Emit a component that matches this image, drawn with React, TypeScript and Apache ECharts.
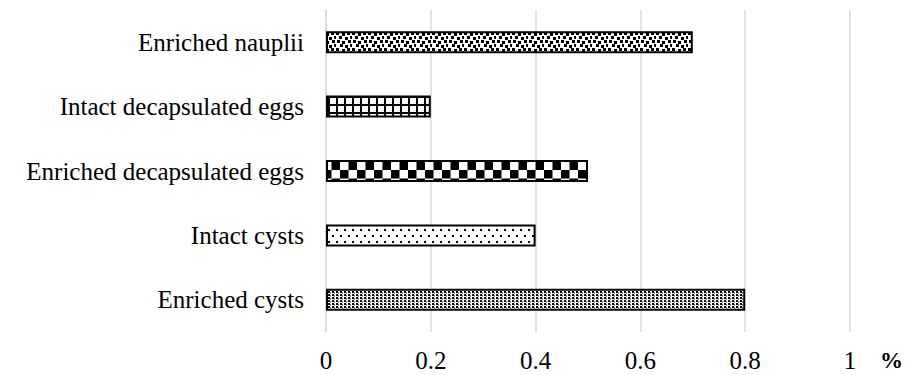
import React, { useEffect, useRef } from "react";
import * as echarts from "echarts";

const categories = [
  "Enriched cysts",
  "Intact cysts",
  "Enriched decapsulated eggs",
  "Intact decapsulated eggs",
  "Enriched nauplii",
];
const values = [0.8, 0.4, 0.5, 0.2, 0.7];
const xTicks = { min: 0, max: 1, interval: 0.2 };
const unitLabel = "%";

function makeCanvas(w: number, h: number, draw: (c: CanvasRenderingContext2D) => void) {
  const cv = document.createElement("canvas");
  cv.width = w;
  cv.height = h;
  const ctx = cv.getContext("2d")!;
  ctx.fillStyle = "#fff";
  ctx.fillRect(0, 0, w, h);
  ctx.fillStyle = "#000";
  draw(ctx);
  return { image: cv, repeat: "repeat", imageWidth: w, imageHeight: h } as any;
}

function buildPatterns() {
  // Enriched cysts: dense dots
  const dense = makeCanvas(4, 3, (c) => {
    c.fillRect(0, 0, 2, 2);
    c.fillRect(2, 1.5, 1, 1);
  });
  // Intact cysts: sparse dots
  const sparse = makeCanvas(8, 12, (c) => {
    c.fillRect(0, 1, 2, 2);
    c.fillRect(4, 7, 2, 2);
  });
  // Enriched decapsulated eggs: checkerboard
  const checker = makeCanvas(17, 17, (c) => {
    c.fillRect(0, 0, 8.5, 8.5);
    c.fillRect(8.5, 8.5, 8.5, 8.5);
  });
  // Intact decapsulated eggs: grid
  const grid = makeCanvas(8, 8, (c) => {
    c.fillRect(0, 0, 8, 2);
    c.fillRect(0, 0, 2, 8);
  });
  // Enriched nauplii: confetti
  const confetti = makeCanvas(16, 16, (c) => {
    const sq: number[][] = [
      [0, 0], [6, 1], [11, 0], [3, 4], [9, 5], [14, 4],
      [1, 8], [6, 9], [12, 8], [4, 12], [9, 13], [14, 12],
    ];
    sq.forEach(([x, y]) => c.fillRect(x, y, 3, 3));
  });
  return [dense, sparse, checker, grid, confetti];
}

export default function App() {
  const ref = useRef<HTMLDivElement>(null);
  useEffect(() => {
    if (!ref.current) return;
    document.body.style.margin = "0";
    const chart = echarts.init(ref.current, null, { renderer: "svg" });
    const patterns = buildPatterns();
    const font = "'Liberation Serif', 'Times New Roman', serif";
    chart.setOption({
      animation: false,
      grid: { left: 326, right: 58, top: 10, bottom: 43, containLabel: false },
      xAxis: {
        type: "value",
        min: xTicks.min,
        max: xTicks.max,
        interval: xTicks.interval,
        axisLine: { show: false },
        axisTick: { show: false },
        splitLine: { show: true, lineStyle: { color: "#d9d9d9", width: 1.5 } },
        axisLabel: { color: "#000", fontSize: 25, fontFamily: font, margin: 16 },
      },
      yAxis: {
        type: "category",
        data: categories,
        axisLine: { show: true, lineStyle: { color: "#d9d9d9", width: 1.5 } },
        axisTick: { show: false },
        axisLabel: { color: "#000", fontSize: 25, fontFamily: font, margin: 22 },
      },
      graphic: [
        {
          type: "text",
          left: 880,
          top: 349,
          style: { text: unitLabel, fontSize: 23, fontWeight: "bold", fontFamily: font, fill: "#000" },
        },
      ],
      series: [
        {
          type: "bar",
          barWidth: 22,
          data: values.map((v, i) => ({
            value: v,
            itemStyle: { color: patterns[i], borderColor: "#000", borderWidth: 2 },
          })),
        },
      ],
    });
    return () => chart.dispose();
  }, []);
  return <div ref={ref} style={{ width: 908, height: 375 }} />;
}
